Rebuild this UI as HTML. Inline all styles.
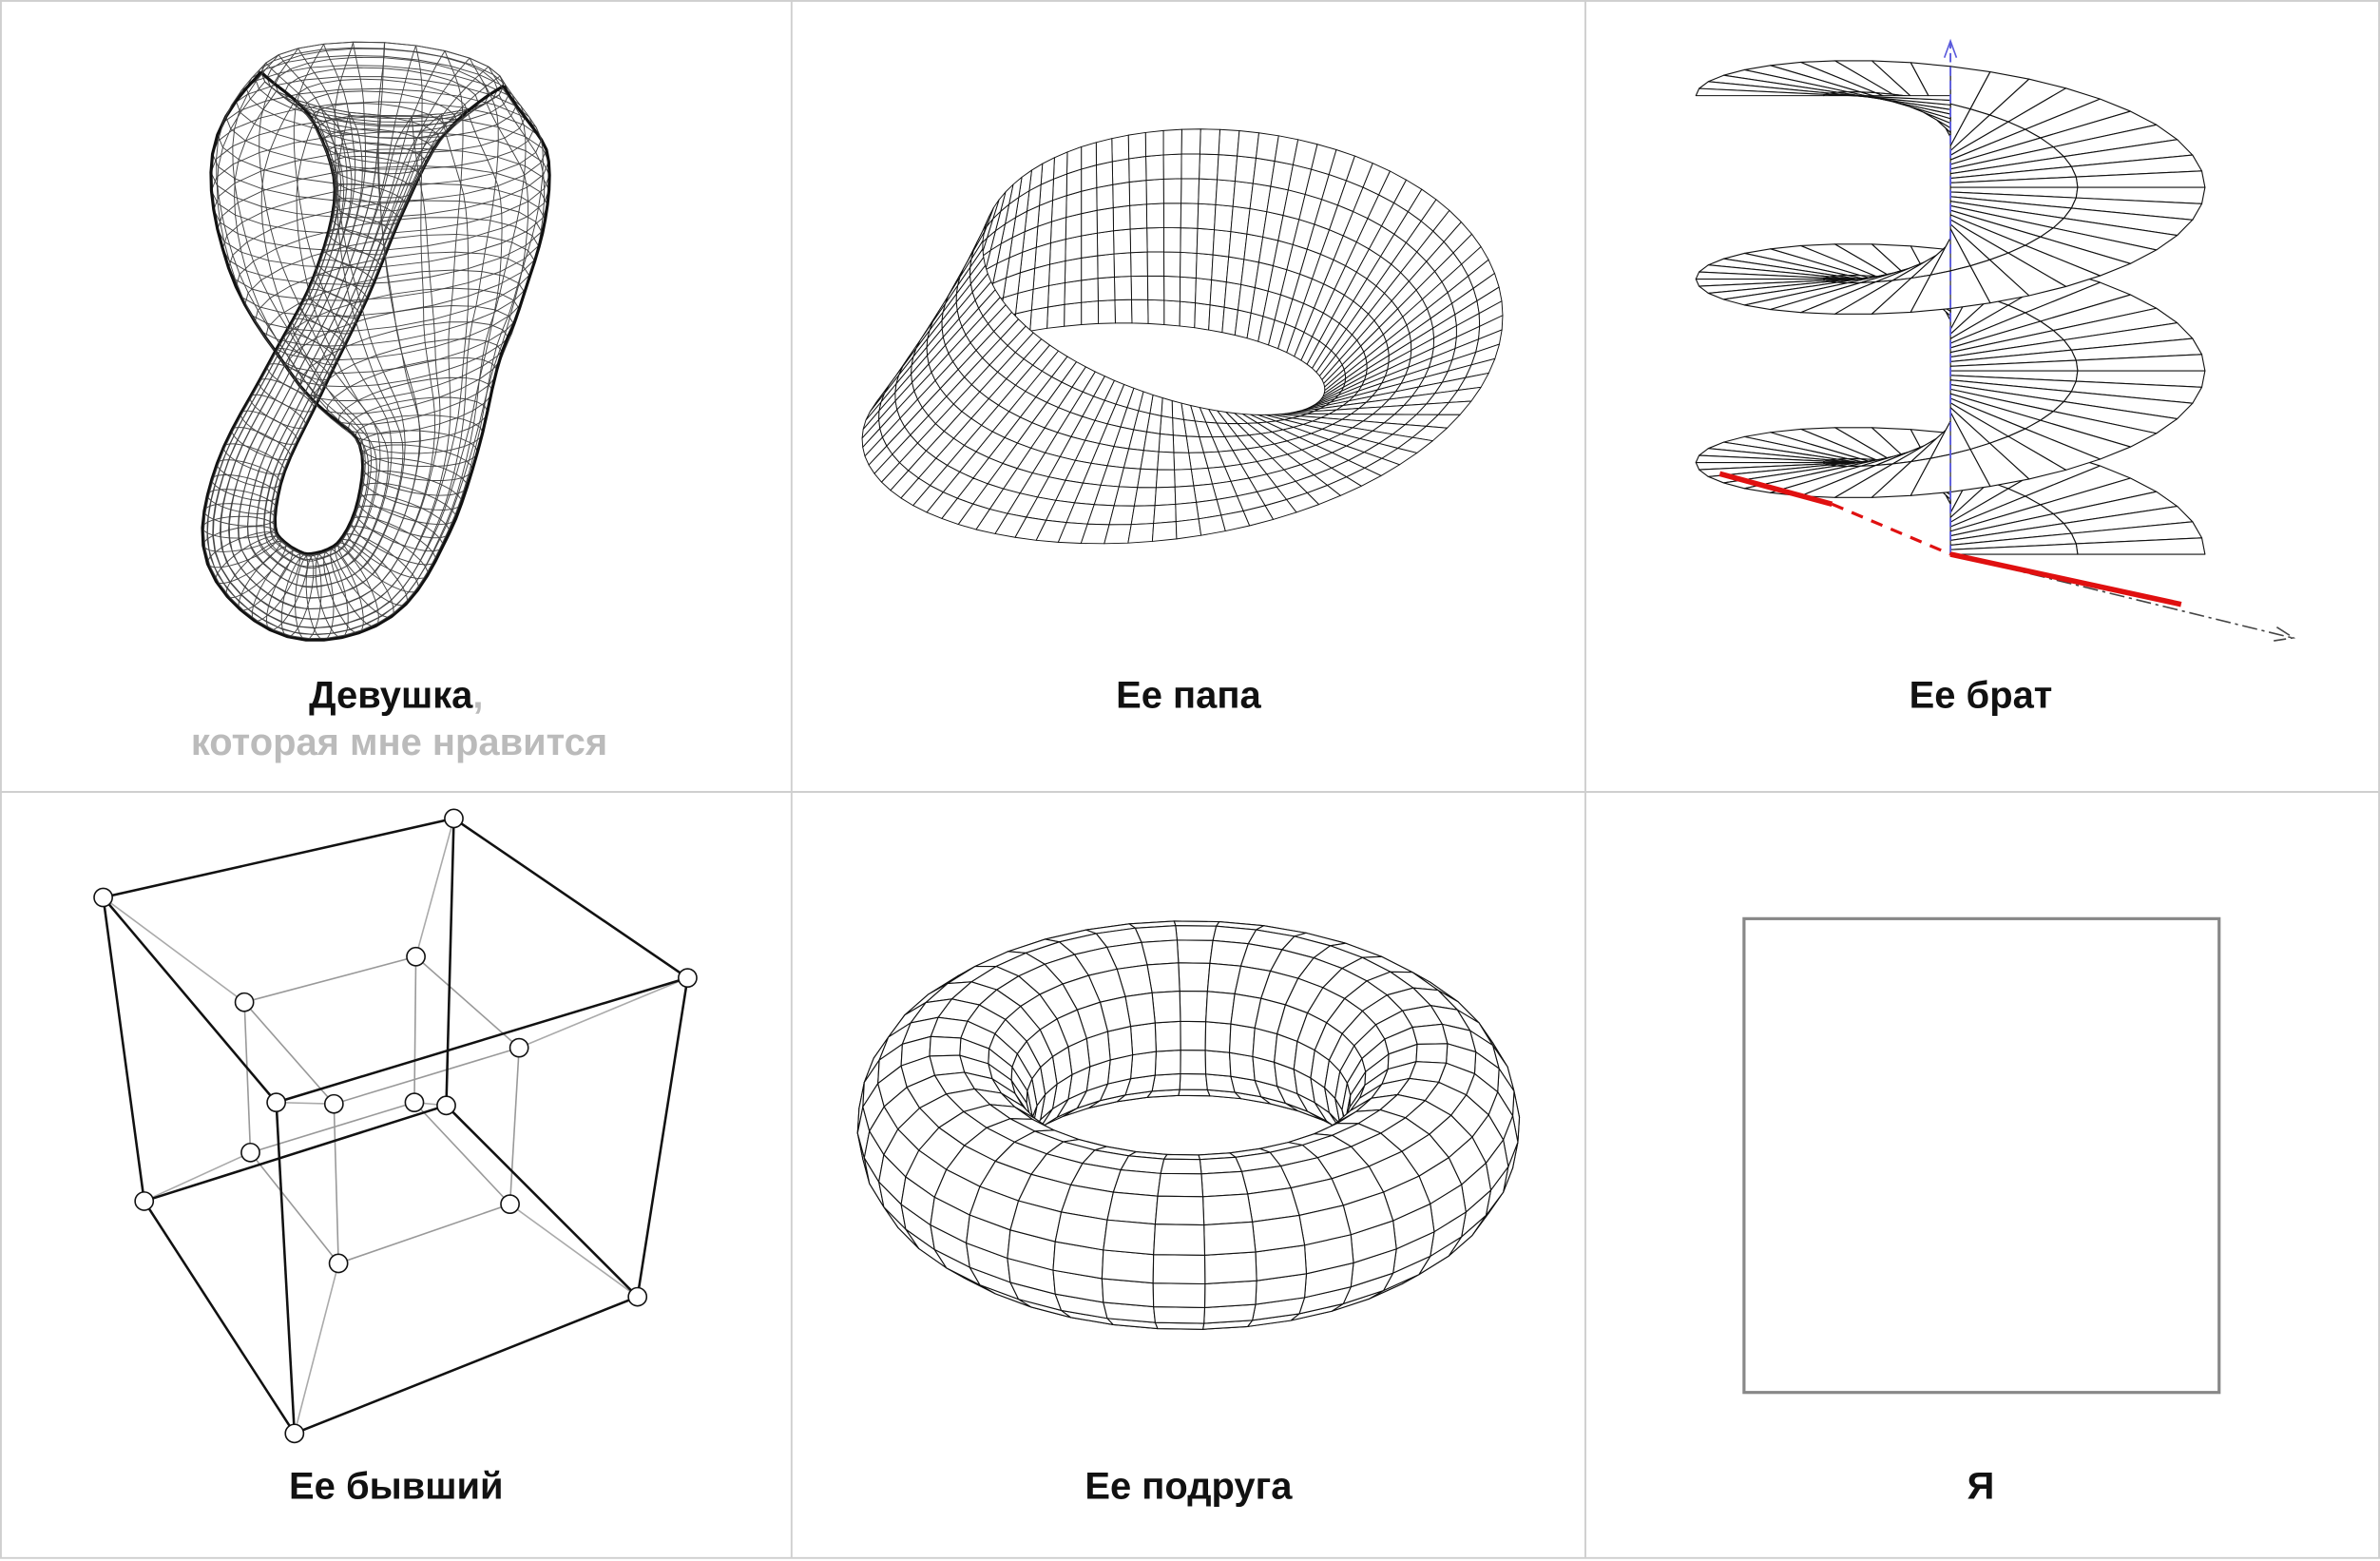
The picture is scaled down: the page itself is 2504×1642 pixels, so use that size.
<!DOCTYPE html>
<html><head><meta charset="utf-8">
<style>
html,body{margin:0;padding:0;background:#fff;}
svg{display:block;}
text{font-family:"Liberation Sans","DejaVu Sans",sans-serif;font-weight:bold;}
</style></head>
<body>
<svg id="chart" xmlns="http://www.w3.org/2000/svg" width="2504" height="1642" viewBox="0 0 1568 1028" preserveAspectRatio="none">
  <rect x="0" y="0" width="1568" height="1028" fill="#fff"/>
  <g id="grid" stroke="#cfcfcf" stroke-width="1.2" fill="none">
    <rect x="0.6" y="0.6" width="1566.8" height="1025.4"/>
    <line x1="521.5" y1="0" x2="521.5" y2="1026"/>
    <line x1="1044.5" y1="0" x2="1044.5" y2="1026"/>
    <line x1="0" y1="521.5" x2="1568" y2="521.5"/>
  </g>
  <g id="klein"></g>
  <g id="mobius"></g>
  <g id="helix"></g>
  <g id="tess"></g>
  <g id="torus"></g>
  <rect x="1149" y="605" width="313" height="312" fill="none" stroke="#888" stroke-width="2"/>
  <g font-size="25" text-anchor="middle" fill="#111">
    <text x="261" y="466">Девушка<tspan fill="#bbb">,</tspan></text>
    <text x="263" y="497" fill="#bbb">которая мне нравится</text>
    <text x="783" y="466">Ее папа</text>
    <text x="1305" y="466">Ее брат</text>
    <text x="261" y="987">Ее бывший</text>
    <text x="783" y="987">Ее подруга</text>
    <text x="1305" y="987">Я</text>
  </g>
</svg>
<script>
const NS='http://www.w3.org/2000/svg';
const outerV=[[68,591],[299,539],[453,644],[182,726],[95,791],[294,728],[420,854],[194,944]];
const innerV=[[161,660],[274,630],[342,690],[220,727],[165,759],[273,726],[336,793],[223,832]];
const cubeEdges=[[0,1],[1,2],[2,3],[3,0],[4,5],[5,6],[6,7],[7,4],[0,4],[1,5],[2,6],[3,7]];
// Klein bottle centerline control points [x, y, radius]
const kleinPath=[[252,52,80],[250,100,110],[254,165,104],[264,228,76],[276,286,42],[266,340,32],[240,382,30],[196,392,28],[160,362,25],[164,312,22],[194,250,20],[224,190,19],[244,130,24],[250,82,45],[252,52,80]];

function mk(tag,parent){const e=document.createElementNS(NS,tag);parent.appendChild(e);return e;}
function proj(p,az,elv){const[x,y,z]=p;const x1=x*Math.cos(az)-y*Math.sin(az),y1=x*Math.sin(az)+y*Math.cos(az);
 return {X:x1,Y:-(z*Math.cos(elv)+y1*Math.sin(elv)),D:y1*Math.cos(elv)-z*Math.sin(elv)};}
function fitter(pts,box){let a=1e9,b=-1e9,c=1e9,d=-1e9;pts.forEach(p=>{a=Math.min(a,p.X);b=Math.max(b,p.X);c=Math.min(c,p.Y);d=Math.max(d,p.Y);});
 const s=Math.min((box[2]-box[0])/(b-a),(box[3]-box[1])/(d-c));const ox=(box[0]+box[2])/2-s*(a+b)/2,oy=(box[1]+box[3])/2-s*(c+d)/2;
 return p=>[ox+s*p.X,oy+s*p.Y];}
function fitterFree(pts,box){let a=1e9,b=-1e9,c=1e9,d=-1e9;pts.forEach(p=>{a=Math.min(a,p.X);b=Math.max(b,p.X);c=Math.min(c,p.Y);d=Math.max(d,p.Y);});
 const sx=(box[2]-box[0])/(b-a),sy=(box[3]-box[1])/(d-c);
 return p=>[box[0]+sx*(p.X-a),box[1]+sy*(p.Y-c)];}
function grid(f,nu,nv,u0,u1,v0,v1,az,elv){const P=[];for(let i=0;i<=nu;i++){P.push([]);for(let j=0;j<=nv;j++){P[i].push(proj(f(u0+(u1-u0)*i/nu,v0+(v1-v0)*j/nv),az,elv));}}return P;}
function surface(g,P,box,name,sw,free){const F=(free?fitterFree:fitter)(P.flat(),box);const q=[];
 for(let i=0;i<P.length-1;i++)for(let j=0;j<P[0].length-1;j++){const c=[P[i][j],P[i+1][j],P[i+1][j+1],P[i][j+1]];q.push({c,D:(c[0].D+c[1].D+c[2].D+c[3].D)/4});}
 q.sort((a,b)=>b.D-a.D);
 q.forEach(o=>{const e=mk('polygon',g);
  
  
  e.setAttribute('points',o.c.map(p=>F(p).map(v=>v.toFixed(1)).join(',')).join(' '));
  e.setAttribute('fill','#fff');e.setAttribute('stroke','#111');e.setAttribute('stroke-width',sw);e.setAttribute('stroke-linejoin','round');});
 return F;}

// Klein bottle as swept tube
(function(){const g=document.getElementById('klein');
 const n=kleinPath.length;const samples=[];
 function cr(p0,p1,p2,p3,t){const t2=t*t,t3=t2*t;return p1.map((_,k)=>0.5*((2*p1[k])+(-p0[k]+p2[k])*t+(2*p0[k]-5*p1[k]+4*p2[k]-p3[k])*t2+(-p0[k]+3*p1[k]-3*p2[k]+p3[k])*t3));}
 for(let i=0;i<n-1;i++){const p0=kleinPath[Math.max(0,i-1)],p1=kleinPath[i],p2=kleinPath[i+1],p3=kleinPath[Math.min(n-1,i+2)];
  for(let s=0;s<6;s++)samples.push(cr(p0,p1,p2,p3,s/6));}
 samples.push(kleinPath[n-1]);
 const rings=samples.map((c,i)=>{const a=samples[Math.max(0,i-1)],b=samples[Math.min(samples.length-1,i+1)];
  let tx=b[0]-a[0],ty=b[1]-a[1];const L=Math.hypot(tx,ty)||1;tx/=L;ty/=L;const nx=-ty,ny=tx;
  const pts=[];for(let k=0;k<=24;k++){const th=2*Math.PI*k/24;pts.push([c[0]+nx*c[2]*Math.cos(th)+tx*0.3*c[2]*Math.sin(th),c[1]+ny*c[2]*Math.cos(th)+ty*0.3*c[2]*Math.sin(th)]);}
  return pts;});
 rings.forEach(r=>{const e=mk('polyline',g);
  
  
  e.setAttribute('points',r.map(p=>p[0].toFixed(1)+','+p[1].toFixed(1)).join(' '));
  e.setAttribute('fill','none');e.setAttribute('stroke','#444');e.setAttribute('stroke-width','0.6');});
 for(let k=0;k<24;k++){const e=mk('polyline',g);
  
  
  e.setAttribute('points',rings.map(r=>r[k][0].toFixed(1)+','+r[k][1].toFixed(1)).join(' '));
  e.setAttribute('fill','none');e.setAttribute('stroke',(k===0||k===12)?'#111':'#444');e.setAttribute('stroke-width',(k===0||k===12)?'2':'0.6');}
})();

// Mobius
(function(){const g=document.getElementById('mobius');
 const f=(u,w)=>{const r=1+w*Math.cos(u/2);return [r*Math.cos(u),r*Math.sin(u),w*Math.sin(u/2)];};
 const P=grid(f,90,8,0,2*Math.PI,-0.45,0.45,-1.2,0.55);surface(g,P,[568,85,990,358],'mobius-face','0.6',true);
})();

// Torus
(function(){const g=document.getElementById('torus');
 const f=(u,v)=>{const r=2.8+Math.cos(v);return [r*Math.cos(u),r*Math.sin(u),Math.sin(v)];};
 const P=grid(f,40,18,0,2*Math.PI,0,2*Math.PI,0.05,0.5);surface(g,P,[565,603,1001,879],'torus-face','0.7');
})();

// Helicoid
(function(){const g=document.getElementById('helix');
 const h=0.12;const f=(u,r)=>[r*Math.cos(u),r*Math.sin(u),h*u];
 const P=grid(f,100,2,0,5*Math.PI,0,1,0,0.3);const F=surface(g,P,[1110,40,1460,365],'helicoid-face','0.7');
 const top=F(proj([0,0,h*5*Math.PI],0,0.3)),bot=F(proj([0,0,0],0,0.3));
 const ax=mk('line',g);
 
 
 ax.setAttribute('x1',bot[0]);ax.setAttribute('y1',bot[1]);ax.setAttribute('x2',top[0]);ax.setAttribute('y2',28);
 ax.setAttribute('stroke','#5a5adc');ax.setAttribute('stroke-width','1.2');ax.setAttribute('stroke-dasharray','6 3');
 const ah=mk('path',g);
 
 
 ah.setAttribute('d',`M${top[0]-4},38 L${top[0]},27 L${top[0]+4},38`);ah.setAttribute('fill','none');ah.setAttribute('stroke','#5a5adc');
 const dl=mk('path',g);
 
 
 dl.setAttribute('d',`M${bot[0]},${bot[1]} L1510,420 M1500,413 L1511,420 L1498,422`);dl.setAttribute('fill','none');dl.setAttribute('stroke','#444');dl.setAttribute('stroke-width','1');dl.setAttribute('stroke-dasharray','10 3 2 3');
 const rl=mk('path',g);
 
 
 rl.setAttribute('d',`M1133,312 L1207,332 M${bot[0]},${bot[1]} L1437,398`);rl.setAttribute('stroke','#e01010');rl.setAttribute('stroke-width','3.5');rl.setAttribute('fill','none');
 const rd=mk('path',g);
 
 
 rd.setAttribute('d',`M1207,332 L${bot[0]},${bot[1]}`);rd.setAttribute('stroke','#e01010');rd.setAttribute('stroke-width','2');rd.setAttribute('stroke-dasharray','8 6');
})();

// Tesseract
(function(){const g=document.getElementById('tess');
 function line(a,b,col,w,name){const e=mk('line',g);
  
  
  e.setAttribute('x1',a[0]);e.setAttribute('y1',a[1]);e.setAttribute('x2',b[0]);e.setAttribute('y2',b[1]);e.setAttribute('stroke',col);e.setAttribute('stroke-width',w);}
 for(let i=0;i<8;i++)line(outerV[i],innerV[i],'#aaa','1','connector-edge');
 cubeEdges.forEach(([a,b])=>line(innerV[a],innerV[b],'#999','1','inner-edge'));
 cubeEdges.forEach(([a,b])=>line(outerV[a],outerV[b],'#111','1.6','outer-edge'));
 outerV.concat(innerV).forEach(p=>{const c=mk('circle',g);
  
  
  c.setAttribute('cx',p[0]);c.setAttribute('cy',p[1]);c.setAttribute('r','6');c.setAttribute('fill','#fff');c.setAttribute('stroke','#111');c.setAttribute('stroke-width','1');});
})();
</script>
</body></html>
